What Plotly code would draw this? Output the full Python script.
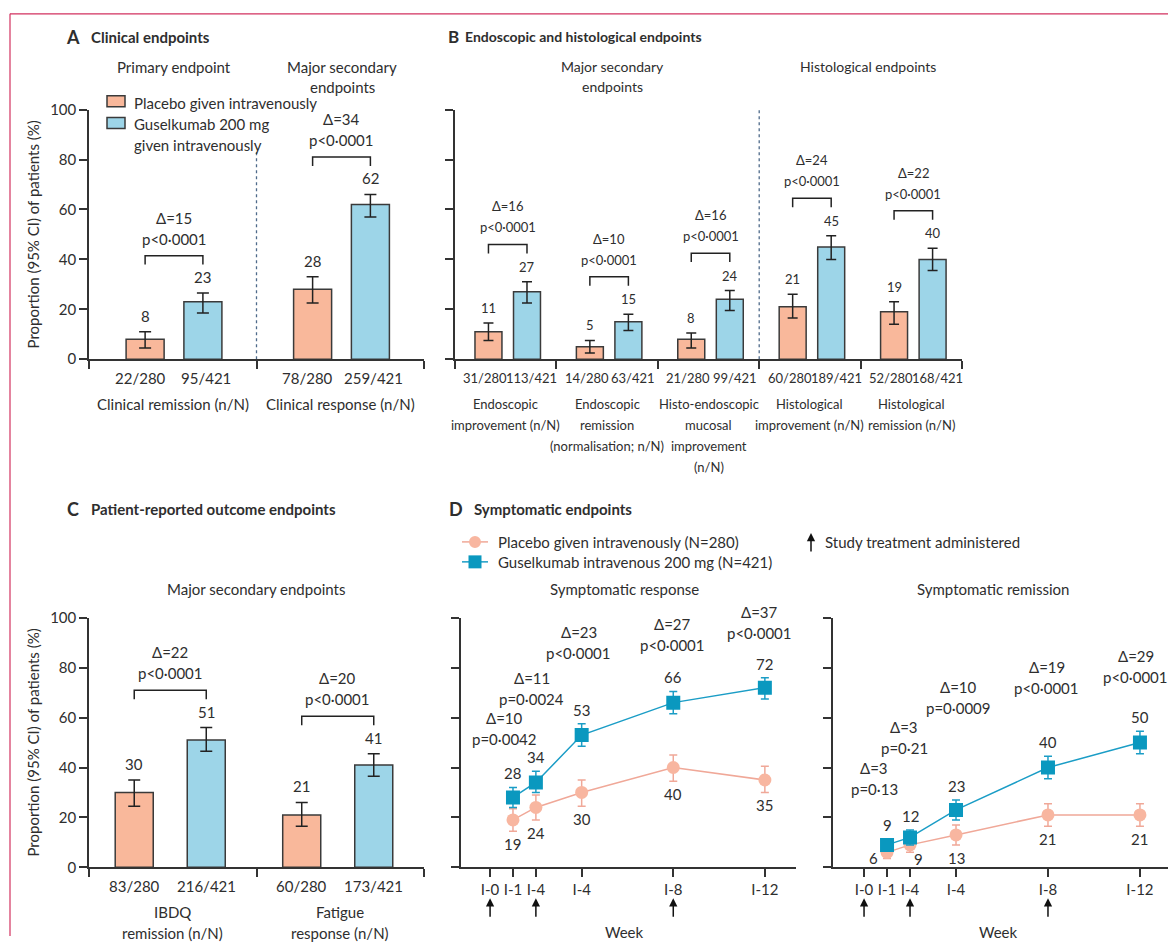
import plotly.graph_objects as go

W, H = 1168, 944

# ---------------- data ----------------
# A  Clinical endpoints
a_endpoints = [["Clinical remission (n/N)"], ["Clinical response (n/N)"]]
a_placebo_nN = ["22/280", "78/280"]
a_gus_nN = ["95/421", "259/421"]
a_placebo = [8, 28]
a_placebo_lo = [4.5, 22.5]
a_placebo_hi = [11, 33]
a_gus = [23, 62]
a_gus_lo = [18.5, 57]
a_gus_hi = [26.5, 66]
a_delta = ["Δ=15", "Δ=34"]
a_p = ["p&lt;0·0001", "p&lt;0·0001"]

# B  Endoscopic and histological endpoints
b_endpoints = [
    ["Endoscopic", "improvement (n/N)"],
    ["Endoscopic", "remission", "(normalisation; n/N)"],
    ["Histo-endoscopic", "mucosal", "improvement", "(n/N)"],
    ["Histological", "improvement (n/N)"],
    ["Histological", "remission (n/N)"],
]
b_placebo_nN = ["31/280", "14/280", "21/280", "60/280", "52/280"]
b_gus_nN = ["113/421", "63/421", "99/421", "189/421", "168/421"]
b_placebo = [11, 5, 8, 21, 19]
b_placebo_lo = [7.5, 2.5, 4.5, 16.5, 14]
b_placebo_hi = [14.5, 7.5, 10.5, 26, 23]
b_gus = [27, 15, 24, 45, 40]
b_gus_lo = [22.5, 11.5, 19.5, 40, 35.5]
b_gus_hi = [31, 18, 27.5, 49.5, 44.5]
b_delta = ["Δ=16", "Δ=10", "Δ=16", "Δ=24", "Δ=22"]
b_p = ["p&lt;0·0001"] * 5

# C  Patient-reported outcome endpoints
c_endpoints = [["IBDQ", "remission (n/N)"], ["Fatigue", "response (n/N)"]]
c_placebo_nN = ["83/280", "60/280"]
c_gus_nN = ["216/421", "173/421"]
c_placebo = [30, 21]
c_placebo_lo = [24.5, 16.5]
c_placebo_hi = [35, 26]
c_gus = [51, 41]
c_gus_lo = [46.5, 36.5]
c_gus_hi = [56, 45.5]
c_delta = ["Δ=22", "Δ=20"]
c_p = ["p&lt;0·0001", "p&lt;0·0001"]

# D  Symptomatic endpoints
d_weeks = [1, 2, 4, 8, 12]
d_tickvals = [0, 1, 2, 4, 8, 12]
d_ticktext = ["I-0", "I-1", "I-4", "I-4", "I-8", "I-12"]
d_dose_weeks = [0, 2, 8]

resp_placebo = [19, 24, 30, 40, 35]
resp_placebo_lo = [14.5, 19, 24.5, 34.5, 30]
resp_placebo_hi = [23.5, 29, 35, 45, 40.5]
resp_gus = [28, 34, 53, 66, 72]
resp_gus_lo = [24, 30, 48.5, 61.5, 67.5]
resp_gus_hi = [32, 38.5, 57.5, 70.5, 76]
resp_delta = ["Δ=10", "Δ=11", "Δ=23", "Δ=27", "Δ=37"]
resp_p = ["p=0·0042", "p=0·0024", "p&lt;0·0001", "p&lt;0·0001", "p&lt;0·0001"]

rem_placebo = [6, 9, 13, 21, 21]
rem_placebo_lo = [3.5, 6, 9, 16.5, 16.5]
rem_placebo_hi = [8.5, 12, 17, 25.5, 25.5]
rem_gus = [9, 12, 23, 40, 50]
rem_gus_lo = [6.5, 9, 19, 35.5, 45.5]
rem_gus_hi = [11.5, 15, 27, 44.5, 54.5]
rem_delta = ["Δ=3", "Δ=3", "Δ=10", "Δ=19", "Δ=29"]
rem_p = ["p=0·13", "p=0·21", "p=0·0009", "p&lt;0·0001", "p&lt;0·0001"]

# ---------------- styling ----------------
INK = "#2e2e2e"
AXIS = "#333333"
PLACEBO_FILL = "#F9B89B"
GUS_FILL = "#9DD5E8"
BAR_EDGE = "#3a3a3a"
PLACEBO_LINE = "#F0A898"
PLACEBO_MARK = "#F8B6A0"
GUS_LINE = "#1B9DC6"
GUS_MARK = "#0A98BF"
DIVIDER = "#4E6A8A"
FRAME = "#D2315F"
FONT = "Lato, 'Open Sans', sans-serif"
FS = 15
FS_B = 13

# vertical placement: page rows are laid out from a small top offset with a slight stretch
Y_OFF, Y_SCALE = 8.2, 0.9826


def fx(px):
    return px / W


def fy(py):
    return 1 - (py - Y_OFF) / Y_SCALE / H


annotations = []
shapes = []
traces = []


def text(x, y, s, size=FS, anchor="center", bold=False, color=INK, angle=0):
    annotations.append(dict(
        x=fx(x), y=fy(y), xref="paper", yref="paper",
        text=f"<b>{s}</b>" if bold else s, showarrow=False,
        xanchor=anchor, yanchor="middle", textangle=angle,
        font=dict(size=size, family=FONT, color=color)))


def lines(x, y0, rows, step=21, **kw):
    for i, r in enumerate(rows):
        text(x, y0 + i * step, r, **kw)


def axref(k):
    return ("x", "y") if k == 1 else (f"x{k}", f"y{k}")


def bar_panel(k, base_px, pl, pl_lo, pl_hi, gu, gu_lo, gu_hi, pl_nN, gu_nN,
              endpoints, deltas, pvals, offs, width, cap, size, nN_dx=(0, 0)):
    xa, ya = axref(k)
    n = len(pl)
    xp = [i + offs[0] for i in range(n)]
    xg = [i + offs[1] for i in range(n)]
    for xs, v, lo, hi, fill in ((xp, pl, pl_lo, pl_hi, PLACEBO_FILL),
                                (xg, gu, gu_lo, gu_hi, GUS_FILL)):
        traces.append(go.Bar(
            x=xs, y=v, width=width, xaxis=xa, yaxis=ya,
            marker=dict(color=fill, line=dict(color=BAR_EDGE, width=1.5)),
            error_y=dict(type="data", symmetric=False,
                         array=[h - a for h, a in zip(hi, v)],
                         arrayminus=[a - l for a, l in zip(v, lo)],
                         color="#222222", thickness=1.5, width=cap),
            hoverinfo="skip"))
        for x, a, h in zip(xs, v, hi):
            annotations.append(dict(
                x=x, y=h, xref=xa, yref=ya, text=str(a), showarrow=False,
                xanchor="center", yanchor="bottom", yshift=5,
                font=dict(size=size, family=FONT, color=INK)))
    for i in range(n):
        top = max(pl_hi[i], gu_hi[i]) + 15
        shapes.append(dict(
            type="path", xref=xa, yref=ya,
            path=f"M {xp[i]},{top - 3.6} L {xp[i]},{top} L {xg[i]},{top} L {xg[i]},{top - 3.6}",
            line=dict(color="#222222", width=1.5)))
        mid = (xp[i] + xg[i]) / 2
        for s, dy in ((pvals[i], 17), (deltas[i], 38)):
            annotations.append(dict(
                x=mid, y=top, xref=xa, yref=ya, text=s, showarrow=False,
                xanchor="center", yanchor="middle", yshift=dy,
                font=dict(size=size, family=FONT, color=INK)))
        for x, s, dx in ((xp[i], pl_nN[i], nN_dx[0]), (xg[i], gu_nN[i], nN_dx[1])):
            annotations.append(dict(
                x=x, y=fy(base_px + 19), xref=xa, yref="paper", text=s,
                showarrow=False, xanchor="center", yanchor="middle", xshift=dx,
                font=dict(size=size, family=FONT, color=INK)))
        for j, row in enumerate(endpoints[i]):
            annotations.append(dict(
                x=i + 0.5, y=fy(base_px + 45 + 21 * j), xref=xa, yref="paper",
                text=row, showarrow=False, xanchor="center", yanchor="middle",
                font=dict(size=size, family=FONT, color=INK)))


def line_panel(k, pl, pl_lo, pl_hi, gu, gu_lo, gu_hi, deltas, pvals,
               note_y, note_dx, placebo_label_shift):
    xa, ya = axref(k)
    for v, lo, hi, lc, mc, sym, size in (
            (pl, pl_lo, pl_hi, PLACEBO_LINE, PLACEBO_MARK, "circle", 13),
            (gu, gu_lo, gu_hi, GUS_LINE, GUS_MARK, "square", 14)):
        traces.append(go.Scatter(
            x=d_weeks, y=v, xaxis=xa, yaxis=ya, mode="lines+markers",
            line=dict(color=lc, width=1.5),
            marker=dict(symbol=sym, size=size, color=mc),
            error_y=dict(type="data", symmetric=False,
                         array=[h - a for h, a in zip(hi, v)],
                         arrayminus=[a - l for a, l in zip(v, lo)],
                         color=lc, thickness=1.5, width=4),
            hoverinfo="skip"))
    for i, w in enumerate(d_weeks):
        annotations.append(dict(
            x=w, y=gu_hi[i], xref=xa, yref=ya, text=str(gu[i]), showarrow=False,
            xanchor="center", yanchor="bottom", yshift=3,
            font=dict(size=FS, family=FONT, color=INK)))
        if i in placebo_label_shift:
            dx, dy = placebo_label_shift[i]
            annotations.append(dict(
                x=w, y=pl[i], xref=xa, yref=ya, text=str(pl[i]), showarrow=False,
                xanchor="center", yanchor="middle", xshift=dx, yshift=dy,
                font=dict(size=FS, family=FONT, color=INK)))
        else:
            annotations.append(dict(
                x=w, y=pl_lo[i], xref=xa, yref=ya, text=str(pl[i]), showarrow=False,
                xanchor="center", yanchor="top", yshift=-2,
                font=dict(size=FS, family=FONT, color=INK)))
        for s, dy in ((pvals[i], 0), (deltas[i], 21)):
            annotations.append(dict(
                x=w, y=note_y[i], xref=xa, yref=ya, text=s, showarrow=False,
                xanchor="center", yanchor="middle", xshift=note_dx[i], yshift=dy,
                font=dict(size=FS, family=FONT, color=INK)))
    for w in d_dose_weeks:
        annotations.append(dict(
            x=w, y=fy(898), xref=xa, yref="paper", text="", showarrow=True,
            ax=0, ay=20, axref="pixel", ayref="pixel", arrowhead=2,
            arrowsize=1.1, arrowwidth=1.5, arrowcolor="#111111"))


# panels
bar_panel(1, 358, a_placebo, a_placebo_lo, a_placebo_hi, a_gus, a_gus_lo, a_gus_hi,
          a_placebo_nN, a_gus_nN, a_endpoints, a_delta, a_p,
          (0.335, 0.68), 0.227, 6, FS, nN_dx=(-5, 3))
bar_panel(2, 358, b_placebo, b_placebo_lo, b_placebo_hi, b_gus, b_gus_lo, b_gus_hi,
          b_placebo_nN, b_gus_nN, b_endpoints, b_delta, b_p,
          (0.33, 0.71), 0.266, 5, FS_B, nN_dx=(-3, 5))
bar_panel(3, 867, c_placebo, c_placebo_lo, c_placebo_hi, c_gus, c_gus_lo, c_gus_hi,
          c_placebo_nN, c_gus_nN, c_endpoints, c_delta, c_p,
          (0.27, 0.70), 0.227, 6, FS)
line_panel(4, resp_placebo, resp_placebo_lo, resp_placebo_hi,
           resp_gus, resp_gus_lo, resp_gus_hi, resp_delta, resp_p,
           [51.6, 67.6, 86, 89, 94], [-8, -4, -3, -1, -5], {})
line_panel(5, rem_placebo, rem_placebo_lo, rem_placebo_hi,
           rem_gus, rem_gus_lo, rem_gus_hi, rem_delta, rem_p,
           [31.2, 48, 64, 72, 76.4], [-13, -6, 2, -1, -4], {0: (-14, -6), 1: (8, -14)})

# dashed separators
shapes.append(dict(type="line", xref="x", yref="y", x0=1, x1=1, y0=0, y1=83,
                   line=dict(color=DIVIDER, width=1.3, dash="3px,3px")))
shapes.append(dict(type="line", xref="x2", yref="y2", x0=3, x1=3, y0=0, y1=100,
                   line=dict(color=DIVIDER, width=1.3, dash="3px,3px")))

# frame rule
shapes.append(dict(type="line", xref="paper", yref="paper", x0=fx(10), x1=1,
                   y0=fy(12), y1=fy(12), line=dict(color=FRAME, width=1.2)))
shapes.append(dict(type="line", xref="paper", yref="paper", x0=fx(10), x1=fx(10),
                   y0=fy(12), y1=0, line=dict(color=FRAME, width=1.2)))

# panel headings
text(64, 35, "A", size=18, anchor="left", bold=True)
text(89, 35, "Clinical endpoints", anchor="left", bold=True)
text(446, 35, "B", size=17, anchor="left", bold=True)
text(463, 35, "Endoscopic and histological endpoints", size=14, anchor="left", bold=True)
text(65, 508, "C", size=18, anchor="left", bold=True)
text(89, 508, "Patient-reported outcome endpoints", anchor="left", bold=True)
text(447, 508, "D", size=18, anchor="left", bold=True)
text(472, 508, "Symptomatic endpoints", anchor="left", bold=True)

# sub-headings
text(174, 65, "Primary endpoint")
lines(342, 65, ["Major secondary", "endpoints"], step=20)
lines(612, 65, ["Major secondary", "endpoints"], step=20, size=14)
text(868, 65, "Histological endpoints", size=14)
text(256, 588, "Major secondary endpoints")
text(624, 588, "Symptomatic response")
text(993, 588, "Symptomatic remission")
text(624, 932, "Week")
text(998, 932, "Week")

# y-axis titles
text(33, 233, "Proportion (95% CI) of patients (%)", angle=-90)
text(33, 742, "Proportion (95% CI) of patients (%)", angle=-90)

# bar legend (panel A)
for yc, fill in ((99.5, PLACEBO_FILL), (121.5, GUS_FILL)):
    shapes.append(dict(type="rect", xref="paper", yref="paper",
                       x0=fx(107), x1=fx(125), y0=fy(yc - 5.5), y1=fy(yc + 5.5),
                       fillcolor=fill, line=dict(color=BAR_EDGE, width=1.5)))
text(132, 101, "Placebo given intravenously", anchor="left")
text(132, 122, "Guselkumab 200 mg", anchor="left")
text(132, 143, "given intravenously", anchor="left")

# line legend (panel D)
for yc, lc, mc, kind in ((541, PLACEBO_LINE, PLACEBO_MARK, "circle"),
                         (561, GUS_LINE, GUS_MARK, "rect")):
    shapes.append(dict(type="line", xref="paper", yref="paper", x0=fx(462), x1=fx(488),
                       y0=fy(yc), y1=fy(yc), line=dict(color=lc, width=1.5)))
    r = 6 if kind == "circle" else 6.5
    shapes.append(dict(type=kind, xref="paper", yref="paper",
                       x0=fx(475 - r), x1=fx(475 + r), y0=fy(yc - r), y1=fy(yc + r),
                       fillcolor=mc, line=dict(width=0)))
text(496, 541, "Placebo given intravenously (N=280)", anchor="left")
text(496, 561, "Guselkumab intravenous 200 mg (N=421)", anchor="left")
annotations.append(dict(x=fx(811), y=fy(532), xref="paper", yref="paper", text="",
                        showarrow=True, ax=0, ay=20, arrowhead=2, arrowsize=1.1,
                        arrowwidth=1.5, arrowcolor="#111111"))
text(823, 541, "Study treatment administered", anchor="left")

# ---------------- axes ----------------
base_ax = dict(showline=True, linecolor=AXIS, linewidth=1.5, ticks="outside", ticklen=8,
               tickwidth=1.5, tickcolor=AXIS, showgrid=False, zeroline=False,
               fixedrange=True, tickfont=dict(size=FS, family=FONT, color=INK))


def yax(top_px, bottom_px, labels, anchor):
    return dict(base_ax, domain=[fy(bottom_px), fy(top_px)], range=[0, 100],
                tickvals=[0, 20, 40, 60, 80, 100], showticklabels=labels, anchor=anchor)


layout = dict(
    width=W, height=H, margin=dict(l=0, r=0, t=0, b=0),
    paper_bgcolor="white", plot_bgcolor="white", showlegend=False,
    barmode="overlay",
    xaxis=dict(base_ax, domain=[fx(89), fx(424)], range=[0, 2], tickvals=[0, 1, 2],
               showticklabels=False, anchor="y"),
    yaxis=yax(108, 358, True, "x"),
    xaxis2=dict(base_ax, domain=[fx(455), fx(962)], range=[0, 5], tickvals=[0, 1, 2, 3, 4, 5],
                showticklabels=False, anchor="y2"),
    yaxis2=yax(108, 358, False, "x2"),
    xaxis3=dict(base_ax, domain=[fx(89), fx(424)], range=[0, 2], tickvals=[0, 1, 2],
                showticklabels=False, anchor="y3"),
    yaxis3=yax(617, 867, True, "x3"),
    xaxis4=dict(base_ax, domain=[fx(461), fx(796)], range=[-1.27, 13.36],
                tickvals=d_tickvals, ticktext=d_ticktext, anchor="y4"),
    yaxis4=yax(617, 867, False, "x4"),
    xaxis5=dict(base_ax, domain=[fx(833), 1.0], range=[-1.35, 13.22],
                tickvals=d_tickvals, ticktext=d_ticktext, anchor="y5"),
    yaxis5=yax(617, 867, False, "x5"),
    annotations=annotations, shapes=shapes,
)

fig = go.Figure(data=traces, layout=layout)
fig.write_html("out.html")
